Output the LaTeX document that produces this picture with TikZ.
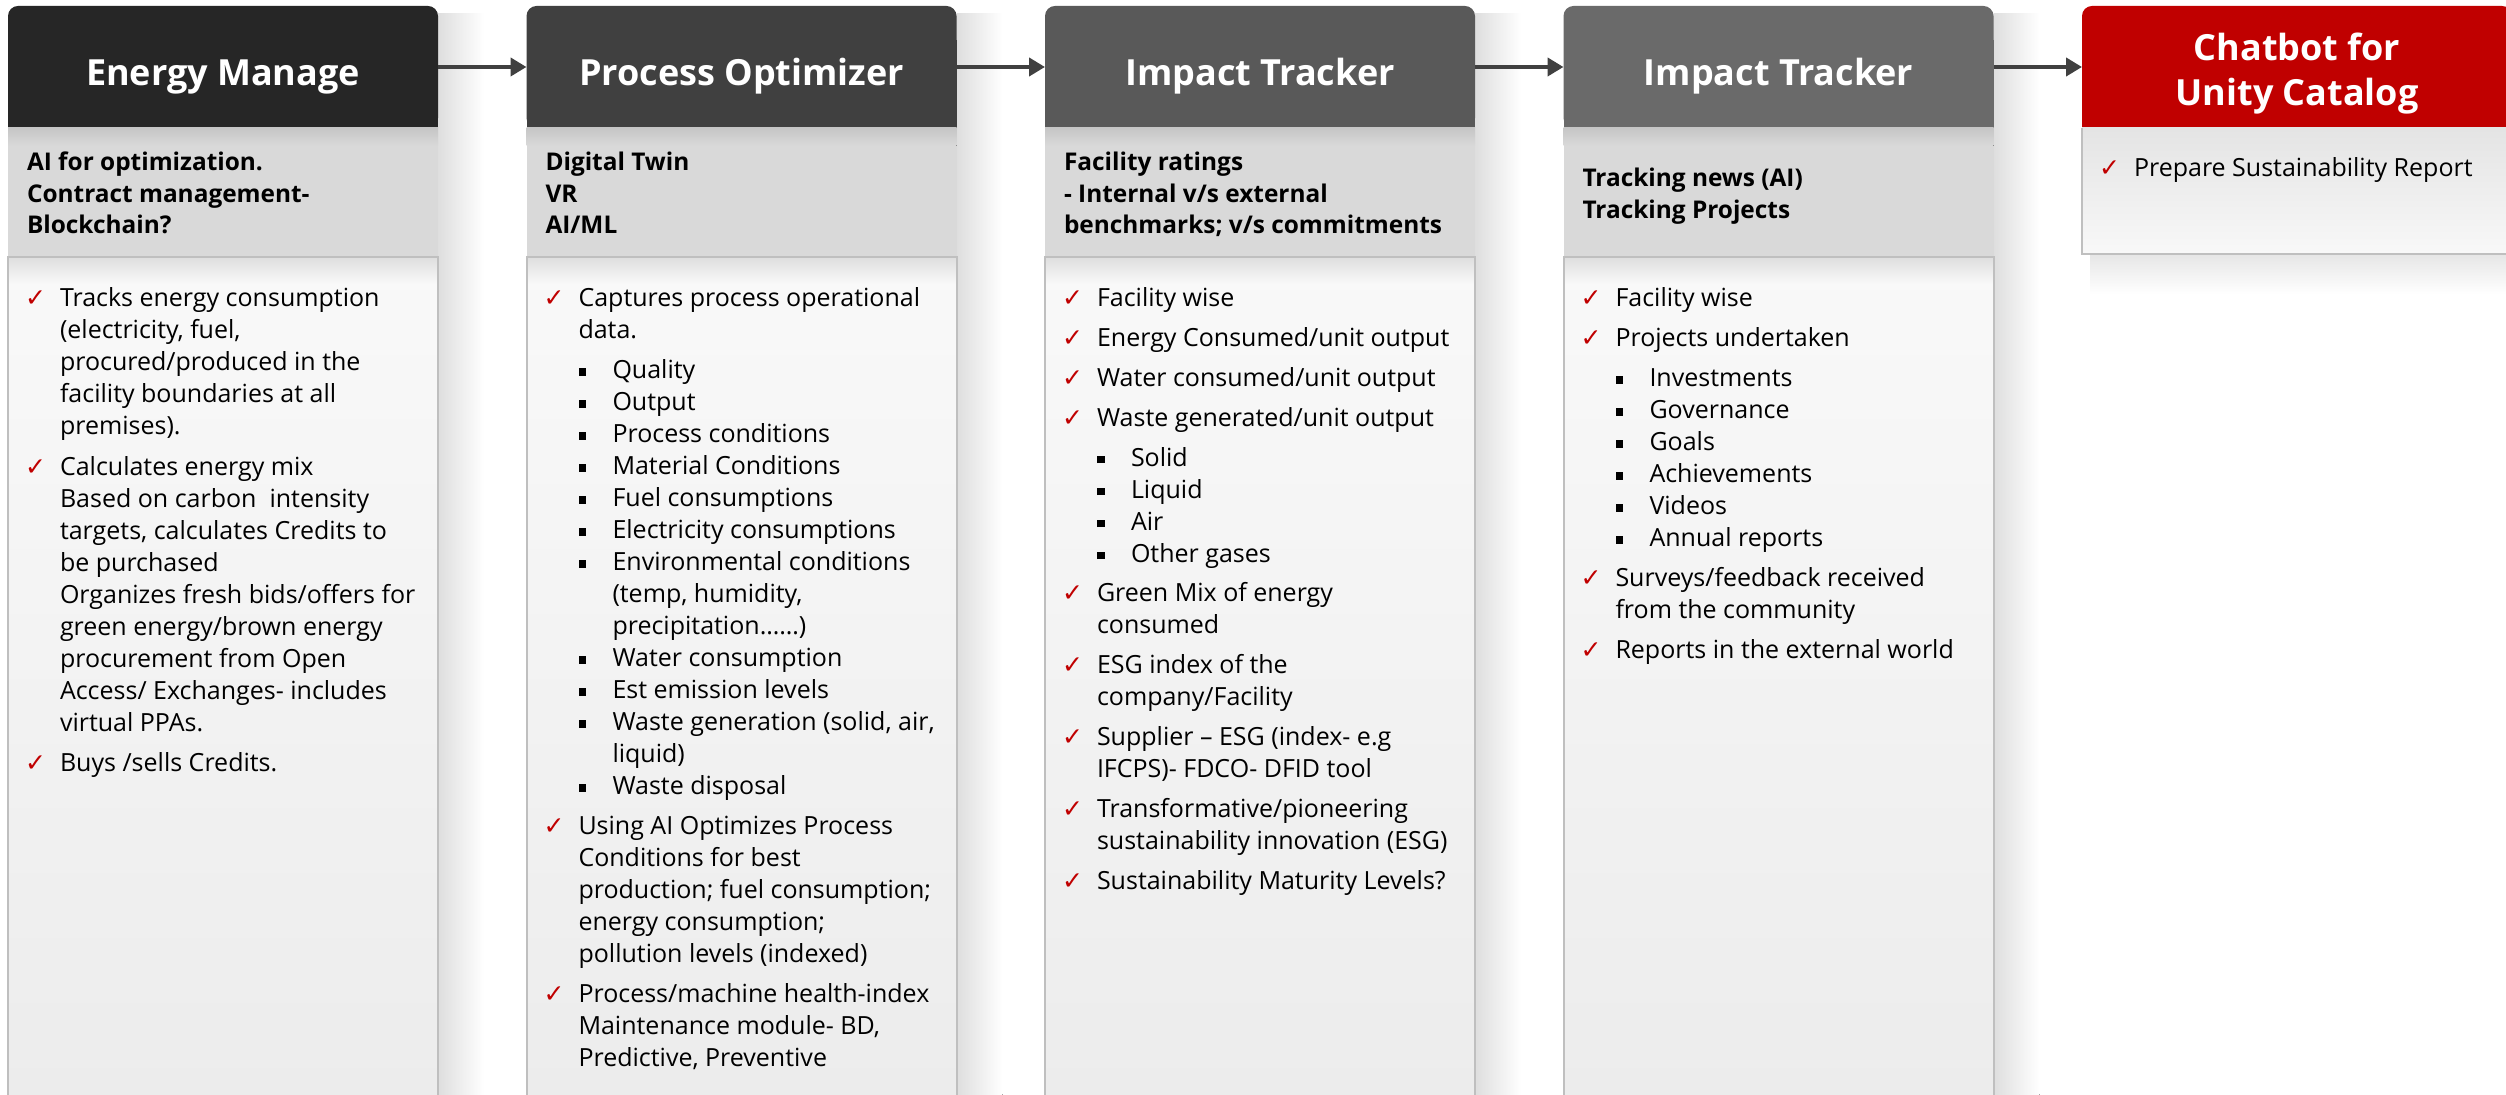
\documentclass[tikz,border=0pt]{standalone}
\usepackage{fontspec}
\setmainfont{Open Sans}
\newfontfamily\symf{DejaVu Sans}
\usetikzlibrary{arrows.meta}
\definecolor{hdA}{HTML}{262626}
\definecolor{hdB}{HTML}{404040}
\definecolor{hdC}{HTML}{595959}
\definecolor{hdD}{HTML}{6A6A6A}
\definecolor{hdE}{HTML}{C00000}
\definecolor{subg}{HTML}{D9D9D9}
\definecolor{subsh}{HTML}{C6C6C6}
\definecolor{bodytop}{HTML}{F9F9F9}
\definecolor{bodybot}{HTML}{ECECEC}
\definecolor{bodysh}{HTML}{DEDEDE}
\definecolor{edge}{HTML}{BFBFBF}
\definecolor{chk}{HTML}{C00000}
\definecolor{arrc}{HTML}{404040}
\definecolor{cfA}{HTML}{E4E4E4}
\definecolor{cfB}{HTML}{F8F8F8}

\newlength\gpsize
\newcommand\bodyfont{\fontsize{12.5pt}{16pt}\selectfont\lineskiplimit=-20pt\parindent=0pt\parskip=0pt}
\newcommand\subfont{\bfseries\fontsize{12.2pt}{15.75pt}\selectfont\lineskiplimit=-20pt\parindent=0pt\raggedright}
\newcommand\ckm{\makebox[17pt][l]{\hspace*{-0.5pt}\symf\fontsize{12.5pt}{12.5pt}\selectfont\color{chk}\char"2713}}
\newcommand\ck[1]{\par\hangindent=17pt\hangafter=1\noindent\ckm#1}
\newcommand\sq[1]{\par\hangindent=34pt\hangafter=1\noindent\hspace*{17pt}\makebox[17pt][l]{\rule[1.5pt]{3.8pt}{3.8pt}}#1}
\newcommand\gp{\par\vspace{\gpsize}}

\newcommand\colframe[2]{%
  \fill[left color=black!13, right color=white] (#1+430,14) rectangle (#1+476,1095);
  \fill[#2, rounded corners=5pt] (#1,6) rectangle (#1+430,128);
  \fill[#2] (#1,40) rectangle (#1+430,128);
  \fill[subg] (#1,128) rectangle (#1+430,257);
  \fill[top color=subsh, bottom color=subg] (#1,128) rectangle (#1+430,146);
  \fill[top color=bodytop, bottom color=bodybot] (#1,257) rectangle (#1+430,1100);
  \fill[top color=bodysh, bottom color=bodytop] (#1,257) rectangle (#1+430,284);
  \draw[edge, line width=1pt] (#1,1100) -- (#1,257) -- (#1+430,257) -- (#1+430,1100);
}

\tikzset{
  hbox/.style={minimum width=215pt, minimum height=61pt, inner sep=0pt, outer sep=0pt},
  ttl/.style={anchor=base, inner sep=0pt, text=white, font=\bfseries\fontsize{18pt}{22.5pt}\selectfont},
  txt/.style={anchor=base west, inner sep=0pt, outer sep=0pt},
  arr/.style={draw=arrc, line width=2pt, -{Triangle[length=8pt,width=9pt]}}
}

\begin{document}
\begin{tikzpicture}[x=0.5pt,y=-0.5pt]
\useasboundingbox (0,0) rectangle (2506,1095);
\fill[white] (0,0) rectangle (2506,1095);

% frames
\colframe{8}{hdA}
\colframe{526.5}{hdB}
\colframe{1045}{hdC}
\colframe{1563.5}{hdD}
% column 5
\fill[top color=black!10, bottom color=white] (2090,254) rectangle (2512,294);
\fill[hdE, rounded corners=5pt] (2082,6) rectangle (2512,128);
\fill[hdE] (2082,40) rectangle (2512,128);
\fill[top color=cfA, bottom color=cfB] (2082,128) rectangle (2512,254);
\draw[edge, line width=1pt] (2082,128) -- (2082,254) -- (2512,254);

% header anchors
\node[hbox] (h1) at (223,67) {};
\node[hbox] (h2) at (741.5,67) {};
\node[hbox] (h3) at (1260,67) {};
\node[hbox] (h4) at (1778.5,67) {};
\node[hbox] (h5) at (2297,67) {};

% titles
\node[ttl] (t1) at (223,86) {Energy Manage};
\node[ttl] (t2) at (741.5,86) {Process Optimizer};
\node[ttl] (t3) at (1260,86) {Impact Tracker};
\node[ttl] (t4) at (1778.5,86) {Impact Tracker};
\node[ttl] (t5) at (2297,61) {\parbox[t]{200pt}{\centering Chatbot for\\Unity Catalog}};

% arrows
\draw[arr] (h1.east) -- (h2.west);
\draw[arr] (h2.east) -- (h3.west);
\draw[arr] (h3.east) -- (h4.west);
\draw[arr] (h4.east) -- (h5.west);

% sub headers
\node[txt] (s1) at (27,171) {\parbox[t]{205pt}{\subfont AI for optimization.\\Contract management-\\Blockchain?}};
\node[txt] (s2) at (545.5,171) {\parbox[t]{205pt}{\subfont Digital Twin\\VR\\AI/ML}};
\node[txt] (s3) at (1064,171) {\parbox[t]{205pt}{\subfont Facility ratings\\- Internal v/s external\\benchmarks; v/s commitments}};
\node[txt] (s4) at (1582.5,187) {\parbox[t]{205pt}{\subfont Tracking news (AI)\\Tracking Projects}};

% bodies
\node[txt] (b1) at (26,307) {\parbox[t]{270pt}{\bodyfont\setlength\gpsize{4.2pt}%
\ck{Tracks energy consumption\\(electricity, fuel,\\procured/produced in the\\facility boundaries at all\\premises).}\gp
\ck{Calculates energy mix\\Based on carbon\ \ intensity\\targets, calculates Credits to\\be purchased\\Organizes fresh bids/offers for\\green energy/brown energy\\procurement from Open\\Access/ Exchanges- includes\\virtual PPAs.}\gp
\ck{Buys /sells Credits.}}};

\node[txt] (b2) at (544.5,307) {\parbox[t]{270pt}{\bodyfont\setlength\gpsize{4pt}%
\ck{Captures process operational\\data.}\gp
\sq{Quality}
\sq{Output}
\sq{Process conditions}
\sq{Material Conditions}
\sq{Fuel consumptions}
\sq{Electricity consumptions}
\sq{Environmental conditions\\(temp, humidity,\\precipitation……)}
\sq{Water consumption}
\sq{Est emission levels}
\sq{Waste generation (solid, air,\\liquid)}
\sq{Waste disposal}\gp
\ck{Using AI Optimizes Process\\Conditions for best\\production; fuel consumption;\\energy consumption;\\pollution levels (indexed)}\gp
\ck{Process/machine health-index\\Maintenance module- BD,\\Predictive, Preventive}}};

\node[txt] (b3) at (1063,307) {\parbox[t]{270pt}{\bodyfont\setlength\gpsize{3.9pt}%
\ck{Facility wise}\gp
\ck{Energy Consumed/unit output}\gp
\ck{Water consumed/unit output}\gp
\ck{Waste generated/unit output}\gp
\sq{Solid}
\sq{Liquid}
\sq{Air}
\sq{Other gases}\gp
\ck{Green Mix of energy\\consumed}\gp
\ck{ESG index of the\\company/Facility}\gp
\ck{Supplier – ESG (index- e.g\\IFCPS)- FDCO- DFID tool}\gp
\ck{Transformative/pioneering\\sustainability innovation (ESG)}\gp
\ck{Sustainability Maturity Levels?}}};

\node[txt] (b4) at (1581.5,307) {\parbox[t]{270pt}{\bodyfont\setlength\gpsize{4pt}%
\ck{Facility wise}\gp
\ck{Projects undertaken}\gp
\sq{Investments}
\sq{Governance}
\sq{Goals}
\sq{Achievements}
\sq{Videos}
\sq{Annual reports}\gp
\ck{Surveys/feedback received\\from the community}\gp
\ck{Reports in the external world}}};

\node[txt] (b5) at (2100,177) {\parbox[t]{270pt}{\bodyfont
\ck{Prepare Sustainability Report}}};
\end{tikzpicture}
\end{document}
